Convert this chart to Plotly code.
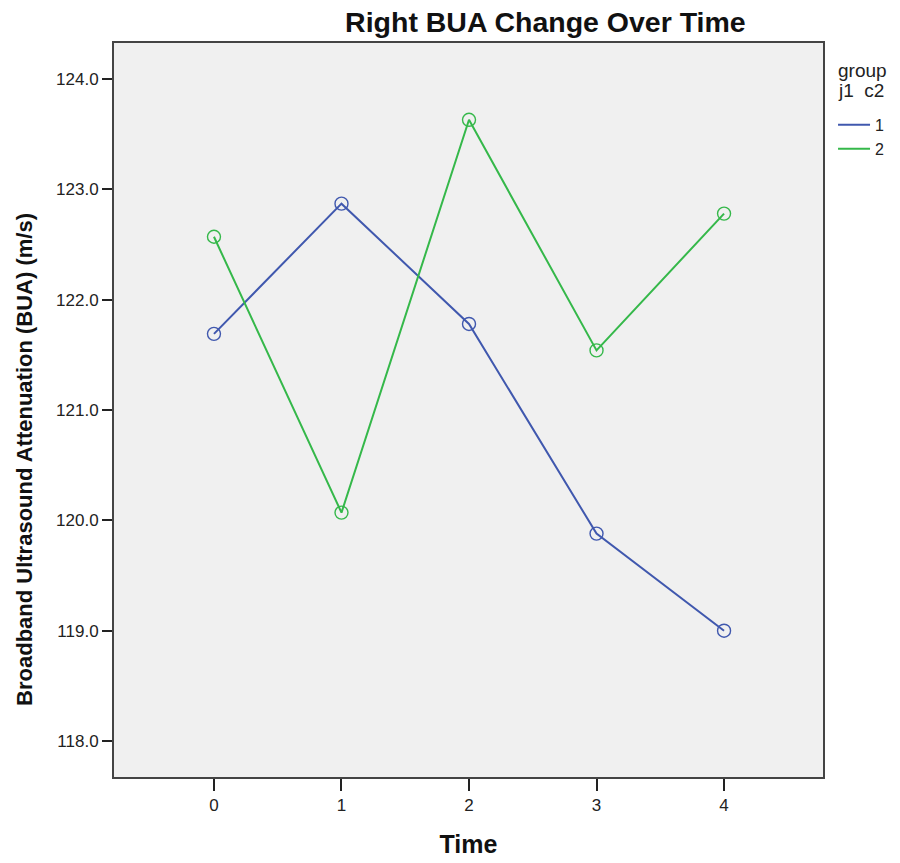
import plotly.graph_objects as go

# Mean BUA by time point for each group
time_points = [0, 1, 2, 3, 4]
group_names = ["1", "2"]
bua_group1 = [121.69, 122.87, 121.78, 119.88, 119.00]
bua_group2 = [122.57, 120.07, 123.63, 121.54, 122.78]
y_ticks = [118.0, 119.0, 120.0, 121.0, 122.0, 123.0, 124.0]

colors = ["#4058AE", "#35B84A"]
series = [bua_group1, bua_group2]

FONT = "Liberation Sans, Arial, sans-serif"

fig = go.Figure()
for name, vals, col in zip(group_names, series, colors):
    # connecting line (shown in the legend as a plain line sample)
    fig.add_trace(go.Scatter(
        x=time_points, y=vals, name=name, mode="lines",
        line=dict(color=col, width=2), legendgroup=name,
    ))
    # open-circle markers at each time point
    fig.add_trace(go.Scatter(
        x=time_points, y=vals, name=name, mode="markers", showlegend=False,
        legendgroup=name,
        marker=dict(symbol="circle-open", size=13, color=col, line=dict(width=1.4)),
    ))

# y-axis title placed as an annotation, slightly below the plot's middle
fig.add_annotation(
    text="<b>Broadband Ultrasound Attenuation (BUA) (m/s)</b>",
    xref="paper", yref="paper", x=-0.1255, y=0.432, xanchor="center", yanchor="middle",
    textangle=-90, showarrow=False, font=dict(size=22, color="#111"),
)

# legend heading, two lines
for txt, yy in [("group", 0.963), ("j1  c2", 0.935)]:
    fig.add_annotation(
        text=txt, xref="paper", yref="paper", x=1.019, y=yy,
        xanchor="left", yanchor="middle", showarrow=False,
        font=dict(size=19, color="#222"),
    )

fig.update_layout(
    width=900, height=863,
    margin=dict(l=114, r=77, t=43, b=86),
    paper_bgcolor="white", plot_bgcolor="#F0F0F0",
    font=dict(family=FONT, color="#222", size=17),
    title=dict(text="<b>Right BUA Change Over Time</b>", x=0.606, xanchor="center",
               y=0.974, yanchor="middle", font=dict(size=28.5, color="#111")),
    showlegend=True,
    legend=dict(
        xref="container", yref="container",
        x=0.9256, xanchor="left", y=0.8749, yanchor="top",
        bgcolor="rgba(0,0,0,0)", font=dict(size=16, color="#222"),
        itemwidth=32, tracegroupgap=0,
    ),
    xaxis=dict(
        range=[-0.784, 4.776], tickvals=time_points, ticktext=[str(t) for t in time_points],
        showgrid=False, zeroline=False, showline=True, linecolor="#444", linewidth=2,
        mirror=True, ticks="outside", ticklen=12, tickcolor="#222", tickwidth=1.5,
        tickfont=dict(size=17), automargin=False,
        title=dict(text="<b>Time</b>", font=dict(size=25, color="#111"), standoff=21),
    ),
    yaxis=dict(
        range=[117.674, 124.326], tickvals=y_ticks, ticktext=[f"{v:.1f}" for v in y_ticks],
        showgrid=False, zeroline=False, showline=True, linecolor="#444", linewidth=2,
        mirror=True, ticks="outside", ticklen=10, tickcolor="#222", tickwidth=1.5,
        tickfont=dict(size=17), automargin=False,
    ),
)

fig.write_html("out.html")
